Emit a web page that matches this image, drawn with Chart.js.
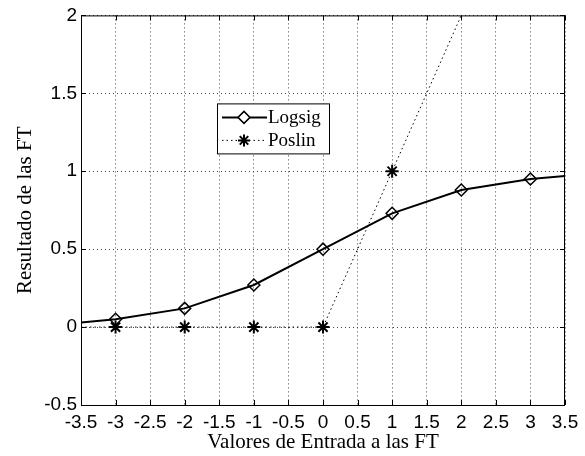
<!DOCTYPE html>
<html>
<head>
<meta charset="utf-8">
<script src="https://cdn.jsdelivr.net/npm/chart.js@4"></script>
<style>
  body { margin: 0; background: #fff; }
  #wrap { width: 585px; height: 456px; }
</style>
</head>
<body>
<div id="wrap"><canvas id="grafica" width="585" height="456"></canvas></div>
<script>
// Datos
const xLogsig = [-3.5, -3, -2, -1, 0, 1, 2, 3, 3.5];
const logsigValues = [0.03, 0.05, 0.12, 0.27, 0.5, 0.73, 0.88, 0.95, 0.97];
const logsigMarkers = [false, true, true, true, true, true, true, true, false];

const xPoslin = [-3.5, -3, -2, -1, 0, 1, 2];
const poslinValues = [0, 0, 0, 0, 0, 1, 2];
const poslinMarkers = [false, true, true, true, true, true, false];

const seriesLabels = ["Logsig", "Poslin"];
const xTitle = "Valores de Entrada a las FT";
const yTitle = "Resultado de las FT";

const tickFont = { family: "Liberation Sans", size: 19 };
const serif = "Liberation Serif";

// Marco completo con marcas hacia dentro (estilo MATLAB)
const framePlugin = {
    id: "frame",
    afterDatasetsDraw(chart) {
        const { ctx, chartArea: a, scales } = chart;
        ctx.save();
        ctx.strokeStyle = "#000";
        ctx.lineWidth = 1;
        ctx.setLineDash([]);
        ctx.strokeRect(a.left + 0.5, a.top + 0.5, a.right - a.left - 1, a.bottom - a.top);
        const len = 5;
        ctx.beginPath();
        scales.x.ticks.forEach(t => {
            const px = Math.round(scales.x.getPixelForValue(t.value)) + 0.5;
            ctx.moveTo(px, a.bottom); ctx.lineTo(px, a.bottom - len);
            ctx.moveTo(px, a.top); ctx.lineTo(px, a.top + len);
        });
        scales.y.ticks.forEach(t => {
            const py = Math.round(scales.y.getPixelForValue(t.value)) + 0.5;
            ctx.moveTo(a.left, py); ctx.lineTo(a.left + len, py);
            ctx.moveTo(a.right, py); ctx.lineTo(a.right - len, py);
        });
        ctx.stroke();
        ctx.restore();
    }
};

// Leyenda dibujada a mano: línea + marcador + texto
const legendPlugin = {
    id: "leyenda",
    afterDraw(chart) {
        const { ctx, chartArea: a } = chart;
        const x0 = a.left + 136, y0 = a.top + 88, w = 112, h = 50;
        ctx.save();
        ctx.fillStyle = "#fff";
        ctx.fillRect(x0, y0, w, h);
        ctx.strokeStyle = "#000";
        ctx.lineWidth = 1;
        ctx.setLineDash([]);
        ctx.strokeRect(x0 + 0.5, y0 + 0.5, w, h);
        ctx.font = "19px " + serif;
        ctx.textBaseline = "middle";
        chart.data.datasets.forEach((ds, i) => {
            const cy = y0 + 14 + i * 23;
            ctx.beginPath();
            ctx.strokeStyle = "#000";
            ctx.lineWidth = ds.borderWidth;
            ctx.setLineDash(ds.borderDash || []);
            ctx.moveTo(x0 + 5, cy);
            ctx.lineTo(x0 + 50, cy);
            ctx.stroke();
            ctx.setLineDash([]);
            ctx.fillStyle = "#fff";
            ctx.lineWidth = ds.pointBorderWidth;
            Chart.helpers.drawPoint(ctx, {
                pointStyle: ds.pointStyle,
                radius: 6,
                borderWidth: ds.pointBorderWidth
            }, x0 + 27, cy);
            ctx.fillStyle = "#000";
            ctx.fillText(ds.label, x0 + 51, cy + 1);
        });
        ctx.restore();
    }
};

new Chart(document.getElementById("grafica"), {
    type: "line",
    data: {
        datasets: [
            {
                label: seriesLabels[0],
                data: xLogsig.map((x, i) => ({ x: x, y: logsigValues[i] })),
                borderColor: "#000",
                borderWidth: 2,
                pointStyle: "rectRot",
                pointRadius: logsigMarkers.map(m => (m ? 6 : 0)),
                pointBorderColor: "#000",
                pointBackgroundColor: "rgba(255,255,255,0)",
                pointBorderWidth: 1.5,
                tension: 0
            },
            {
                label: seriesLabels[1],
                data: xPoslin.map((x, i) => ({ x: x, y: poslinValues[i] })),
                borderColor: "#000",
                borderWidth: 1,
                borderDash: [1.5, 3],
                pointStyle: "star",
                pointRadius: poslinMarkers.map(m => (m ? 6.5 : 0)),
                pointBorderColor: "#000",
                pointBorderWidth: 2,
                tension: 0
            }
        ]
    },
    options: {
        responsive: false,
        animation: false,
        layout: { padding: { top: 15, right: 20, left: 0, bottom: 0 } },
        plugins: { legend: { display: false }, tooltip: { enabled: false } },
        scales: {
            x: {
                type: "linear",
                min: -3.5,
                max: 3.5,
                ticks: {
                    stepSize: 0.5,
                    color: "#000",
                    font: tickFont,
                    padding: 6,
                    maxRotation: 0,
                    autoSkip: false,
                    callback: v => String(Math.round(v * 10) / 10)
                },
                grid: { color: "#444", lineWidth: 1, drawTicks: false },
                border: { display: false, dash: [1, 3] },
                title: {
                    display: true,
                    text: xTitle,
                    color: "#000",
                    font: { family: serif, size: 21 },
                    padding: { top: 0, bottom: 1 }
                },
                afterFit(scale) { scale.height = 51; }
            },
            y: {
                type: "linear",
                min: -0.5,
                max: 2,
                ticks: {
                    stepSize: 0.5,
                    color: "#000",
                    font: tickFont,
                    padding: 4,
                    callback: v => String(Math.round(v * 10) / 10)
                },
                grid: { color: "#444", lineWidth: 1, drawTicks: false },
                border: { display: false, dash: [1, 3] },
                title: {
                    display: true,
                    text: yTitle,
                    color: "#000",
                    font: { family: serif, size: 21 },
                    padding: { top: 13, bottom: 0 }
                },
                afterFit(scale) { scale.width = 81; }
            }
        }
    },
    plugins: [framePlugin, legendPlugin]
});
</script>
</body>
</html>
